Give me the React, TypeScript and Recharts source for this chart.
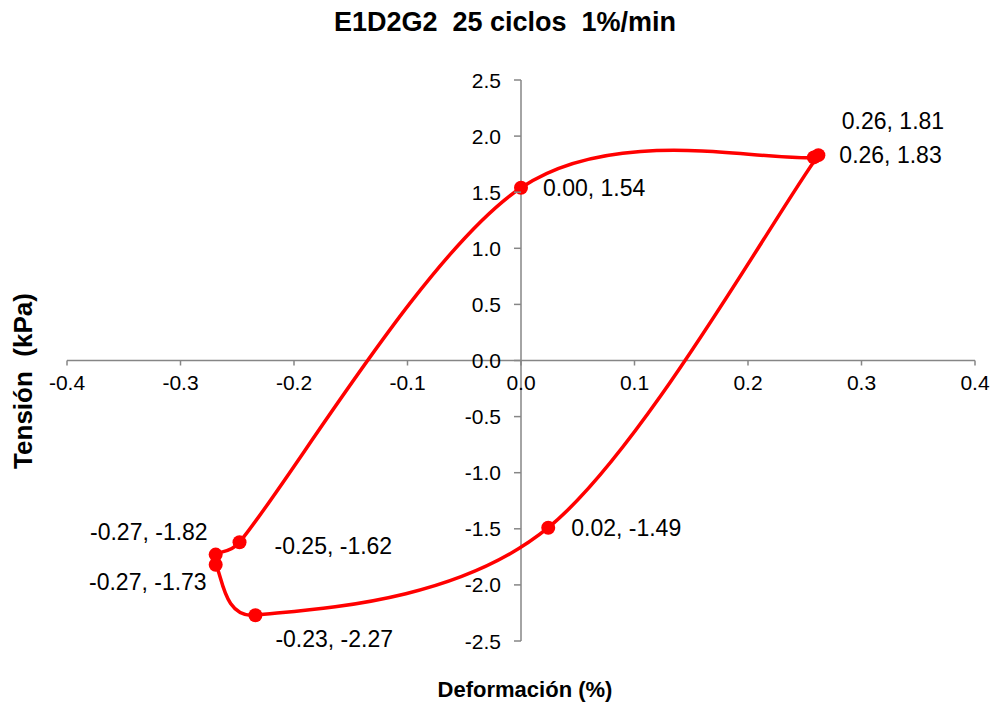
import { ScatterChart, Scatter, XAxis, YAxis, ReferenceLine } from 'recharts'

/* E1D2G2 — 25th cycle hysteresis loop, 1%/min */

// points in cycle order, starting at peak strain
const strain = [0.262, 0.024, -0.234, -0.269, -0.269, -0.248, 0.0, 0.258]
const stress = [1.83, -1.49, -2.27, -1.82, -1.73, -1.62, 1.54, 1.81]

const xTicks = [-0.4, -0.3, -0.2, -0.1, 0, 0.1, 0.2, 0.3, 0.4]
const yTicks = [-2.5, -2, -1.5, -1, -0.5, 0, 0.5, 1, 1.5, 2, 2.5]

// where each data label sits relative to its marker (dx, dy, anchor)
const labelPlacement: Array<[number, number, 'start' | 'end']> = [
  [21, 0, 'start'],
  [23, 0, 'start'],
  [20, 24, 'start'],
  [-8, -33, 'end'],
  [-9, 27, 'end'],
  [35, 3, 'start'],
  [22, 0, 'start'],
  [28, -37, 'start'],
]

const W = 993
const H = 702
const PLOT = { left: 67, top: 80, width: 908, height: 561 }
const X0 = PLOT.left + PLOT.width / 2
const Y0 = PLOT.top + PLOT.height / 2
const AXIS_SIZE = 20

const RED = '#FF0000'
const AXIS = '#868686'
const FONT = '"Liberation Sans", Arial, sans-serif'
const NBSP = '\u00A0'

const rows = strain.map((x, i) => ({ x, y: stress[i], i }))

// Excel-style smoothed line: cardinal bezier (1/6) with control arm capped at half the segment
function excelSmooth(context: any) {
  let xs: number[] = []
  let ys: number[] = []
  return {
    areaStart() {},
    areaEnd() {},
    lineStart() {
      xs = []
      ys = []
    },
    point(x: number, y: number) {
      xs.push(+x)
      ys.push(+y)
    },
    lineEnd() {
      const n = xs.length
      if (!n) return
      context.moveTo(xs[0], ys[0])
      for (let i = 0; i < n - 1; i++) {
        const seg = Math.hypot(xs[i + 1] - xs[i], ys[i + 1] - ys[i])
        const arm = (a: number, b: number) => {
          const dx = xs[b] - xs[a]
          const dy = ys[b] - ys[a]
          const d = Math.hypot(dx, dy)
          const f = d === 0 ? 0 : Math.min(1 / 6, seg / 2 / d)
          return [dx * f, dy * f]
        }
        const [ax, ay] = arm(Math.max(i - 1, 0), i + 1)
        const [bx, by] = arm(i, Math.min(i + 2, n - 1))
        context.bezierCurveTo(xs[i] + ax, ys[i] + ay, xs[i + 1] - bx, ys[i + 1] - by, xs[i + 1], ys[i + 1])
      }
    },
  }
}

// axes cross at the origin, so ticks are drawn against X0 / Y0 instead of the plot edge
const XTick = ({ x, payload }: any) => (
  <g>
    <line x1={x} x2={x} y1={Y0} y2={Y0 + 5} stroke={AXIS} strokeWidth={1.5} />
    <text x={x} y={Y0 + 22} dy="0.36em" textAnchor="middle" fontSize={21} fontFamily={FONT} fill="#000">
      {Number(payload.value).toFixed(1)}
    </text>
  </g>
)

const YTick = ({ y, payload }: any) => (
  <g>
    <line x1={X0 - 7} x2={X0} y1={y} y2={y} stroke={AXIS} strokeWidth={1.5} />
    <text x={X0 - 20} y={y} dy="0.36em" textAnchor="end" fontSize={21} fontFamily={FONT} fill="#000">
      {Number(payload.value).toFixed(1)}
    </text>
  </g>
)

const Marker = ({ cx, cy, payload }: any) => {
  const [dx, dy, anchor] = labelPlacement[payload.i]
  return (
    <g>
      <circle cx={cx} cy={cy} r={7} fill={RED} />
      <text x={cx + dx} y={cy + dy} dy="0.36em" textAnchor={anchor} fontSize={23} fontFamily={FONT} fill="#000">
        {`${payload.x.toFixed(2)}, ${payload.y.toFixed(2)}`}
      </text>
    </g>
  )
}

export default function App() {
  return (
    <div style={{ position: 'absolute', left: 0, top: 0, width: W, height: H, background: '#fff' }}>
      <ScatterChart
        width={W}
        height={H}
        margin={{
          top: PLOT.top,
          right: W - PLOT.left - PLOT.width,
          bottom: H - PLOT.top - PLOT.height - AXIS_SIZE,
          left: PLOT.left - AXIS_SIZE,
        }}
      >
        <XAxis
          type="number"
          dataKey="x"
          domain={[-0.4, 0.4]}
          ticks={xTicks}
          interval={0}
          height={AXIS_SIZE}
          axisLine={false}
          tickLine={false}
          tick={XTick}
        />
        <YAxis
          type="number"
          dataKey="y"
          domain={[-2.5, 2.5]}
          ticks={yTicks}
          interval={0}
          width={AXIS_SIZE}
          axisLine={false}
          tickLine={false}
          tick={YTick}
        />
        <ReferenceLine y={0} stroke={AXIS} strokeWidth={1.5} />
        <ReferenceLine x={0} stroke={AXIS} strokeWidth={1.5} />
        <Scatter
          data={rows}
          fill={RED}
          line={{ stroke: RED, strokeWidth: 3.5 }}
          lineJointType={excelSmooth as any}
          shape={<Marker />}
          isAnimationActive={false}
        />
      </ScatterChart>
      <svg width={W} height={H} style={{ position: 'absolute', left: 0, top: 0, pointerEvents: 'none' }}>
        <text x={505} y={31} textAnchor="middle" fontSize={27} fontWeight="bold" fontFamily={FONT} fill="#000">
          {`E1D2G2${NBSP} 25 ciclos${NBSP} 1%/min`}
        </text>
        <text x={525} y={697} textAnchor="middle" fontSize={22} fontWeight="bold" fontFamily={FONT} fill="#000">
          Deformación (%)
        </text>
        <text transform="translate(32,381) rotate(-90)" textAnchor="middle" fontSize={26} fontWeight="bold" fontFamily={FONT} fill="#000">
          {`Tensión${NBSP} (kPa)`}
        </text>
      </svg>
    </div>
  )
}
